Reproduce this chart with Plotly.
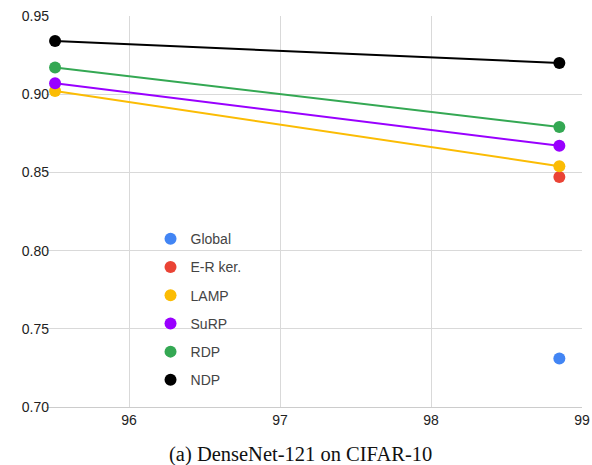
import plotly.graph_objects as go

x_vals = [95.51, 98.85]
methods = ["Global", "E-R ker.", "LAMP", "SuRP", "RDP", "NDP"]
colors = ["#4285F4", "#EA4335", "#FBBC04", "#9900FF", "#34A853", "#000000"]
series = {
    "Global": [None, 0.731],
    "E-R ker.": [None, 0.847],
    "LAMP": [0.902, 0.854],
    "SuRP": [0.907, 0.867],
    "RDP": [0.917, 0.879],
    "NDP": [0.934, 0.920],
}
x_ticks = [96, 97, 98, 99]
y_ticks = [0.70, 0.75, 0.80, 0.85, 0.90, 0.95]

fig = go.Figure()
# lines (no legend)
for m, c in zip(methods, colors):
    ys = series[m]
    if all(v is not None for v in ys):
        fig.add_trace(go.Scatter(x=x_vals, y=ys, mode="lines",
                                 line=dict(color=c, width=2), showlegend=False,
                                 hoverinfo="skip"))
# markers (legend)
for m, c in zip(methods, colors):
    fig.add_trace(go.Scatter(x=x_vals, y=series[m], mode="markers", name=m,
                             legendgroup=m,
                             marker=dict(color=c, size=12)))

fig.update_layout(
    width=592, height=465,
    margin=dict(l=46, r=10, t=16, b=58, autoexpand=False),
    plot_bgcolor="white", paper_bgcolor="white",
    font=dict(family="Liberation Sans, Arial, sans-serif", size=14, color="#222"),
    legend=dict(x=0.195, y=0.47, xanchor="left", yanchor="top",
                bgcolor="rgba(0,0,0,0)", traceorder="grouped", tracegroupgap=7,
                font=dict(size=14, color="#444"), itemsizing="trace"),
    xaxis=dict(range=[95.45, 99.0], tickvals=x_ticks, ticktext=[str(t) for t in x_ticks],
               showgrid=True, gridcolor="#d9d9d9", gridwidth=1, zeroline=False,
               showline=True, linecolor="#cccccc", ticks="", ticklen=0, automargin=False),
    yaxis=dict(range=[0.70, 0.95], tickvals=y_ticks, ticktext=[f"{t:.2f}" for t in y_ticks],
               showgrid=True, gridcolor="#d9d9d9", gridwidth=1, zeroline=False,
               showline=False, ticks="", automargin=False, ticklabelstandoff=-4),
)
fig.add_annotation(text="(a) DenseNet-121 on CIFAR-10", xref="paper", yref="paper",
                   x=0.474, y=-0.122, xanchor="center", yanchor="middle", showarrow=False,
                   font=dict(family="Liberation Serif, Times New Roman, serif", size=20.5, color="#111"))
fig.write_html("out.html")
